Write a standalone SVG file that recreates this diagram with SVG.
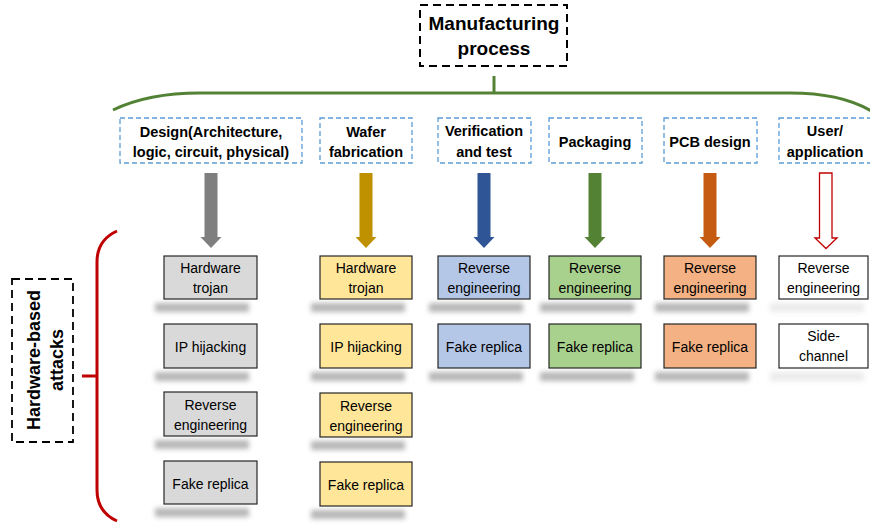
<svg xmlns="http://www.w3.org/2000/svg" width="870" height="524" viewBox="0 0 870 524">
<style>
  .t { font-family: "Liberation Sans", Arial, sans-serif; fill: #000; text-anchor: middle; }
  .hd { font-size: 14.5px; font-weight: bold; }
  .at { font-size: 14px; }
  .stage { fill: #fff; stroke: #5B9BD5; stroke-width: 1.3; stroke-dasharray: 5 3; }
  .box { stroke: #262626; stroke-width: 1.2; }
  .sh { fill: #999999; opacity: 0.7; filter: url(#blur); }
  .shw { fill: #bfbfbf; opacity: 0.3; filter: url(#blur); }
</style>
<defs>
  <filter id="blur" x="-20%" y="-100%" width="140%" height="300%">
    <feGaussianBlur stdDeviation="2.8"/>
  </filter>
</defs>
<rect width="870" height="524" fill="#fff"/>

<g id="connectors">
  <line x1="494" y1="76" x2="494" y2="93" stroke="#548235" stroke-width="3"/>
  <path d="M113,110 Q148,93 200,93 L790,93 Q845,93 876,114" fill="none" stroke="#548235" stroke-width="3"/>
  <polygon points="204.5,173 217.5,173 217.5,237 221.5,237 211,248 200.5,237 204.5,237" fill="#7F7F7F"/>
  <polygon points="359.5,173 372.5,173 372.5,237 376.5,237 366,248 355.5,237 359.5,237" fill="#BF9000"/>
  <polygon points="477.5,173 490.5,173 490.5,237 494.5,237 484,248 473.5,237 477.5,237" fill="#2F5597"/>
  <polygon points="588.5,173 601.5,173 601.5,237 605.5,237 595,248 584.5,237 588.5,237" fill="#548235"/>
  <polygon points="703.5,173 716.5,173 716.5,237 720.5,237 710,248 699.5,237 703.5,237" fill="#C55A11"/>
  <polygon points="819.5,173 832,173 832,238 837,238 826,248.5 815,238 819.5,238" fill="#fff" stroke="#C00000" stroke-width="1.3"/>
  <path d="M117,231 Q97,240 97,262 L97,490 Q97,512 117,521" fill="none" stroke="#C00000" stroke-width="3"/>
  <line x1="82" y1="376" x2="97" y2="376" stroke="#C00000" stroke-width="3"/>
</g>

<g id="manufacturing">
  <rect x="420" y="5" width="147" height="61" fill="#fff" stroke="#000" stroke-width="2" stroke-dasharray="8 5"/>
  <text class="t" x="494" y="30" font-size="19" font-weight="bold">Manufacturing</text>
  <text class="t" x="494" y="55" font-size="19" font-weight="bold">process</text>
</g>

<g id="stage-design">
  <rect class="stage" x="120" y="118" width="182" height="45"/>
  <text class="t hd" x="211" y="137">Design(Architecture,</text>
  <text class="t hd" x="211" y="157">logic, circuit, physical)</text>
</g>
<g id="stage-wafer">
  <rect class="stage" x="320" y="118" width="92" height="45"/>
  <text class="t hd" x="366" y="137">Wafer</text>
  <text class="t hd" x="366" y="157">fabrication</text>
</g>
<g id="stage-verification">
  <rect class="stage" x="438" y="118" width="93" height="45"/>
  <text class="t hd" x="484" y="136">Verification</text>
  <text class="t hd" x="484" y="157">and test</text>
</g>
<g id="stage-packaging">
  <rect class="stage" x="549" y="118" width="93" height="45"/>
  <text class="t hd" x="595" y="147">Packaging</text>
</g>
<g id="stage-pcb">
  <rect class="stage" x="664" y="118" width="93" height="45"/>
  <text class="t hd" x="710" y="147">PCB design</text>
</g>
<g id="stage-user">
  <rect class="stage" x="779" y="118" width="96" height="45"/>
  <text class="t hd" x="825" y="136">User/</text>
  <text class="t hd" x="825" y="157">application</text>
</g>

<g id="label-attacks">
  <rect x="12" y="279" width="61" height="163" fill="#fff" stroke="#000" stroke-width="1.8" stroke-dasharray="8 5"/>
  <g transform="translate(40,360) rotate(-90)">
    <text class="t" x="0" y="0" font-size="18" font-weight="bold">Hardware-based</text>
    <text class="t" x="0" y="23" font-size="18" font-weight="bold">attacks</text>
  </g>
</g>

<!-- Column 1: Design -->
<g id="d-trojan">
  <rect class="sh" x="155" y="303" width="94" height="9"/>
  <rect class="box" x="164" y="256" width="93" height="43" fill="#D9D9D9"/>
  <text class="t at" x="210.5" y="273">Hardware</text>
  <text class="t at" x="210.5" y="293">trojan</text>
</g>
<g id="d-ip">
  <rect class="sh" x="155" y="372" width="94" height="9"/>
  <rect class="box" x="164" y="324" width="93" height="44" fill="#D9D9D9"/>
  <text class="t at" x="210.5" y="352">IP hijacking</text>
</g>
<g id="d-reverse">
  <rect class="sh" x="155" y="440" width="94" height="9"/>
  <rect class="box" x="164" y="392" width="93" height="44" fill="#D9D9D9"/>
  <text class="t at" x="210.5" y="410">Reverse</text>
  <text class="t at" x="210.5" y="430">engineering</text>
</g>
<g id="d-fake">
  <rect class="sh" x="155" y="508" width="94" height="9"/>
  <rect class="box" x="164" y="461" width="93" height="43" fill="#D9D9D9"/>
  <text class="t at" x="210.5" y="489">Fake replica</text>
</g>

<!-- Column 2: Wafer -->
<g id="w-trojan">
  <rect class="sh" x="311" y="303" width="94" height="9"/>
  <rect class="box" x="320" y="256" width="92" height="43" fill="#FFE699"/>
  <text class="t at" x="366" y="273">Hardware</text>
  <text class="t at" x="366" y="293">trojan</text>
</g>
<g id="w-ip">
  <rect class="sh" x="311" y="372" width="94" height="9"/>
  <rect class="box" x="320" y="324" width="92" height="44" fill="#FFE699"/>
  <text class="t at" x="366" y="352">IP hijacking</text>
</g>
<g id="w-reverse">
  <rect class="sh" x="311" y="441" width="94" height="9"/>
  <rect class="box" x="320" y="393" width="92" height="44" fill="#FFE699"/>
  <text class="t at" x="366" y="411">Reverse</text>
  <text class="t at" x="366" y="431">engineering</text>
</g>
<g id="w-fake">
  <rect class="sh" x="311" y="510" width="94" height="9"/>
  <rect class="box" x="320" y="462" width="92" height="44" fill="#FFE699"/>
  <text class="t at" x="366" y="490">Fake replica</text>
</g>

<!-- Column 3: Verification -->
<g id="v-reverse">
  <rect class="sh" x="429" y="303" width="94" height="9"/>
  <rect class="box" x="438" y="256" width="92" height="43" fill="#B4C7E7"/>
  <text class="t at" x="484" y="273">Reverse</text>
  <text class="t at" x="484" y="293">engineering</text>
</g>
<g id="v-fake">
  <rect class="sh" x="429" y="372" width="94" height="9"/>
  <rect class="box" x="438" y="324" width="92" height="44" fill="#B4C7E7"/>
  <text class="t at" x="484" y="352">Fake replica</text>
</g>

<!-- Column 4: Packaging -->
<g id="p-reverse">
  <rect class="sh" x="540" y="303" width="94" height="9"/>
  <rect class="box" x="549" y="256" width="92" height="43" fill="#A9D18E"/>
  <text class="t at" x="595" y="273">Reverse</text>
  <text class="t at" x="595" y="293">engineering</text>
</g>
<g id="p-fake">
  <rect class="sh" x="540" y="372" width="94" height="9"/>
  <rect class="box" x="549" y="324" width="92" height="44" fill="#A9D18E"/>
  <text class="t at" x="595" y="352">Fake replica</text>
</g>

<!-- Column 5: PCB -->
<g id="b-reverse">
  <rect class="sh" x="655" y="303" width="94" height="9"/>
  <rect class="box" x="664" y="256" width="92" height="43" fill="#F4B183"/>
  <text class="t at" x="710" y="273">Reverse</text>
  <text class="t at" x="710" y="293">engineering</text>
</g>
<g id="b-fake">
  <rect class="sh" x="655" y="372" width="94" height="9"/>
  <rect class="box" x="664" y="324" width="92" height="44" fill="#F4B183"/>
  <text class="t at" x="710" y="352">Fake replica</text>
</g>

<!-- Column 6: User -->
<g id="u-reverse">
  <rect class="shw" x="770" y="303" width="94" height="9"/>
  <rect class="box" x="779" y="256" width="89" height="43" fill="#fff"/>
  <text class="t at" x="823.5" y="273">Reverse</text>
  <text class="t at" x="823.5" y="293">engineering</text>
</g>
<g id="u-side">
  <rect class="shw" x="770" y="372" width="94" height="9"/>
  <rect class="box" x="779" y="324" width="89" height="44" fill="#fff"/>
  <text class="t at" x="823.5" y="341">Side-</text>
  <text class="t at" x="823.5" y="361">channel</text>
</g>
</svg>
